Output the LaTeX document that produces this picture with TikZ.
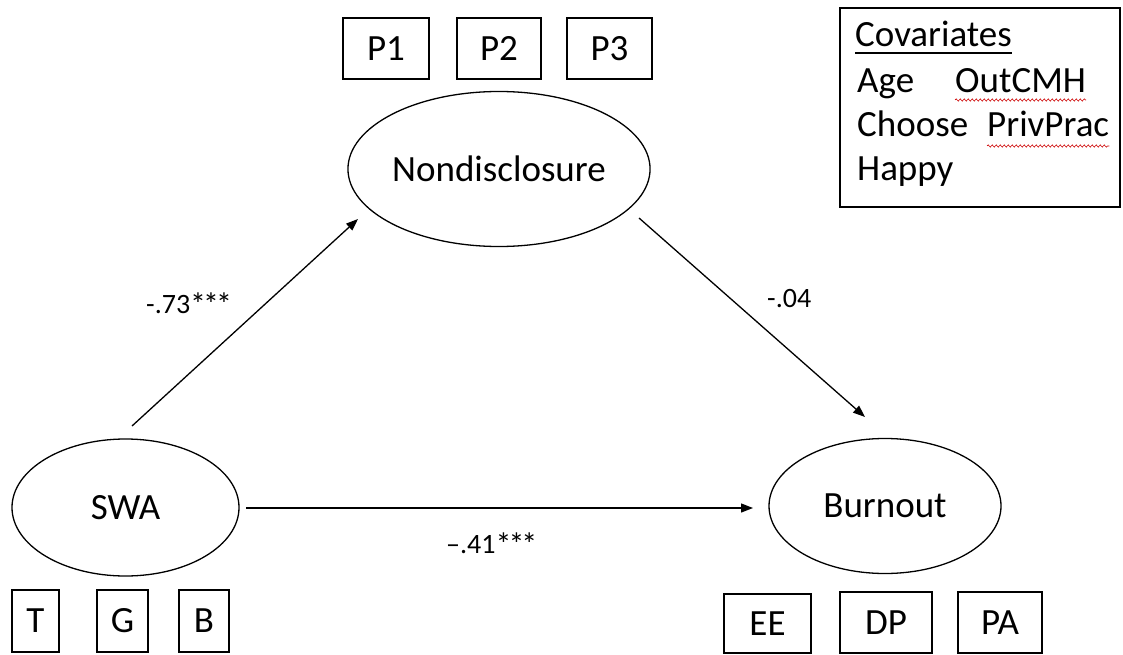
\documentclass[tikz,border=0pt]{standalone}
\usepackage{fontspec}
\setmainfont{Carlito}
\usetikzlibrary{arrows.meta,shapes.geometric,decorations.pathmorphing,calc}
% significance stars, set a little larger and tighter than the digits
\newcommand\sigstars{{\fontsize{32}{32}\selectfont\raisebox{-2.5pt}{*\kern-3pt*\kern-3pt*}}}
\begin{document}
\begin{tikzpicture}[x=1pt,y=-1pt,
  big/.style={font=\fontsize{37}{44}\selectfont},
  coef/.style={font=\fontsize{28}{33}\selectfont, anchor=base west, inner sep=0},
  latent/.style={draw, ellipse, line width=1.3pt, inner sep=0, big},
  indicator/.style={draw, rectangle, line width=1.3pt, inner sep=0, big},
  path/.style={line width=1.3pt, -{Triangle[length=12pt,width=9pt]}},
  spell/.style={red!80!black, line width=0.6pt, decorate,
    decoration={snake, amplitude=1.1pt, segment length=4pt}},
  covtext/.style={big, anchor=base west, inner sep=0}]
\useasboundingbox (0,0) rectangle (1123,655);

% latent variables
\node[latent, minimum width=280, minimum height=155] (nd) at (499,169) {Nondisclosure};
\node[latent, minimum width=227, minimum height=137] (swa) at (125.5,507.5) {SWA};
\node[latent, minimum width=232, minimum height=135] (bo) at (885,506) {Burnout};

% indicators of Nondisclosure
\node[indicator, minimum width=86, minimum height=61] (p1) at (386,48.5) {P1};
\node[indicator, minimum width=84, minimum height=61] (p2) at (499,48.5) {P2};
\node[indicator, minimum width=85, minimum height=61] (p3) at (609.5,48.5) {P3};

% indicators of SWA
\node[indicator, minimum width=47, minimum height=62] (t) at (35.5,621) {T};
\node[indicator, minimum width=51, minimum height=62] (g) at (122.5,621) {G};
\node[indicator, minimum width=50, minimum height=62] (b) at (204,621) {B};

% indicators of Burnout
\node[indicator, minimum width=87, minimum height=59] (ee) at (767.5,623.5) {EE};
\node[indicator, minimum width=92, minimum height=61] (dp) at (886,622.5) {DP};
\node[indicator, minimum width=84, minimum height=61] (pa) at (1000,622.5) {PA};

% structural paths
\draw[path] ($(swa)+(6.5,-81.5)$) -- ($(nd)+(-141,50)$);
\draw[path] ($(nd)+(140,49)$) -- ($(bo)+(-20,-89)$);
\draw[path] ($(swa)+(120.5,0.5)$) -- ($(bo)+(-132,2)$);

% path coefficients
\node[coef] (c1) at (146,313) {-.73\sigstars};
\node[coef] (c2) at (767,307) {-.04};
\node[coef] (c3) at (446,553) {–.41\sigstars};

% covariates box
\node[draw, rectangle, line width=1.3pt, minimum width=280, minimum height=199, inner sep=0] (cov) at (980,107.5) {};
\node[covtext] (covh) at (855,47) {Covariates};
\draw[line width=1.6pt] ($(covh.base west)+(0,6)$) -- ($(covh.base east)+(0,6)$);
\node[covtext] (age) at (857,93) {Age};
\node[covtext] (out) at (955,93) {OutCMH};
\node[covtext] (cho) at (857,137) {Choose};
\node[covtext] (priv) at (987,137) {PrivPrac};
\node[covtext] (hap) at (857,181) {Happy};
\draw[spell] ($(out.base west)+(0,7)$) -- ($(out.base east)+(0,7)$);
\draw[spell] ($(priv.base west)+(0,9)$) -- ($(priv.base east)+(0,9)$);
\end{tikzpicture}
\end{document}
